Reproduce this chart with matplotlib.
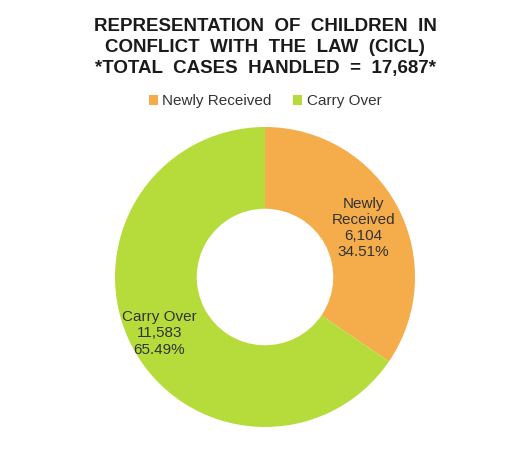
import matplotlib
matplotlib.use("Agg")
import matplotlib.pyplot as plt
import numpy as np

categories = ["Newly Received", "Carry Over"]
cases = [6104, 11583]
percents = [34.51, 65.49]
colors = ["#F5AC4B", "#B6DC3C"]

plt.rcParams["font.family"] = ["Liberation Sans", "DejaVu Sans"]

fig = plt.figure(figsize=(5.1, 4.72), dpi=100)
fig.patch.set_facecolor("white")

# donut centred a little right of middle, below the title block
ax = fig.add_axes([(265 - 150) / 510, (195 - 150) / 472, 300 / 510, 300 / 472])
wedges, _ = ax.pie(cases, colors=colors, startangle=90, counterclock=False,
                   radius=1.0, wedgeprops=dict(width=0.545))
ax.set_xlim(-1, 1)
ax.set_ylim(-1, 1)
ax.set_aspect("equal")
ax.axis("off")

# data labels in the middle of the ring
for name, n, pct, w in zip(categories, cases, percents, wedges):
    mid = np.deg2rad((w.theta1 + w.theta2) / 2)
    r = 0.74
    label_name = name.replace(" ", "\n") if name == "Newly Received" else name
    dx = -0.05 if name == "Carry Over" else 0
    dy = -0.03 if name == "Carry Over" else -0.02
    ax.text(r * np.cos(mid) + dx, r * np.sin(mid) + dy,
            f"{label_name}\n{n:,}\n{pct:.2f}%",
            ha="center", va="center", fontsize=11, color="#333333", linespacing=1.2)

fig.text(0.52, 0.962, "REPRESENTATION  OF  CHILDREN  IN\nCONFLICT  WITH  THE  LAW  (CICL)\n*TOTAL  CASES  HANDLED  =  17,687*",
         ha="center", va="top", fontsize=13.5, fontweight="bold", color="#1a1a1a", linespacing=1.32)

fig.legend(wedges, categories, loc="center", bbox_to_anchor=(0.52, 0.785), ncol=2,
           frameon=False, fontsize=11, handlelength=0.6, handleheight=0.6,
           handletextpad=0.3, columnspacing=1.4, labelcolor="#333333")

fig.savefig("out.png", dpi=100, facecolor="white")
